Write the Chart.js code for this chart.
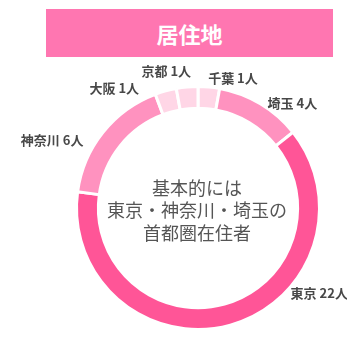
<!DOCTYPE html>
<html lang="ja">
<head>
<meta charset="utf-8">
<title>居住地</title>
<script src="https://cdn.jsdelivr.net/npm/chart.js@4"></script>
<style>
  html, body { margin: 0; padding: 0; background: #fff; }
  #wrap { position: relative; width: 347px; height: 361px; overflow: hidden; font-family: "Noto Sans CJK JP", sans-serif; }
  #title {
    position: absolute; left: 46px; top: 9px; width: 287px; height: 48px;
    background: #ff76b1; color: #fff; font-size: 22px; font-weight: bold;
    line-height: 48px; text-align: center;
  }
  #chart { position: absolute; left: 0; top: 0; }
</style>
</head>
<body>
<div id="wrap">
  <div id="title">居住地</div>
  <canvas id="chart" width="347" height="361"></canvas>
</div>
<script>
// 居住地データ
const areas = ['千葉', '埼玉', '東京', '神奈川', '大阪', '京都'];
const people = [1, 4, 22, 6, 1, 1];
const unit = '人';
const centerLines = ['基本的には', '東京・神奈川・埼玉の', '首都圏在住者'];

const colors = ['#ffd6e6', '#ff92bf', '#ff5597', '#ff92bf', '#ffd6e6', '#ffd6e6'];

// ラベルの位置（中心からの角度と距離）
const labelAngles = [15, 42, 125, 295, 325, 347];
const labelDist = [135, 141, 148, 161, 146, 141];

const outsideLabels = {
    id: 'outsideLabels',
    afterDraw(chart) {
        const ctx = chart.ctx;
        const arc = chart.getDatasetMeta(0).data[0];
        const cx = arc.x, cy = arc.y;
        ctx.save();
        ctx.font = 'bold 13px "Noto Sans CJK JP", sans-serif';
        ctx.fillStyle = '#484848';
        ctx.textAlign = 'center';
        ctx.textBaseline = 'middle';
        areas.forEach((name, i) => {
            const a = labelAngles[i] * Math.PI / 180;
            const x = cx + Math.sin(a) * labelDist[i];
            const y = cy - Math.cos(a) * labelDist[i];
            ctx.fillText(name + ' ' + people[i] + unit, x, y);
        });
        // 中央テキスト
        ctx.font = '18px "Noto Sans CJK JP", sans-serif';
        ctx.fillStyle = '#555';
        centerLines.forEach((line, i) => {
            ctx.fillText(line, cx - 1, cy - 20 + i * 22.5);
        });
        ctx.restore();
    }
};

const ctx = document.getElementById('chart').getContext('2d');
new Chart(ctx, {
    type: 'doughnut',
    data: {
        labels: areas,
        datasets: [{
            data: people,
            backgroundColor: colors,
            borderColor: '#fff',
            borderWidth: 3,
            hoverOffset: 0
        }]
    },
    options: {
        responsive: false,
        animation: false,
        cutout: '82%',
        layout: {
            padding: { left: 75, right: 26, top: 85, bottom: 30 }
        },
        plugins: {
            legend: { display: false },
            tooltip: { enabled: false }
        }
    },
    plugins: [outsideLabels]
});
</script>
</body>
</html>
